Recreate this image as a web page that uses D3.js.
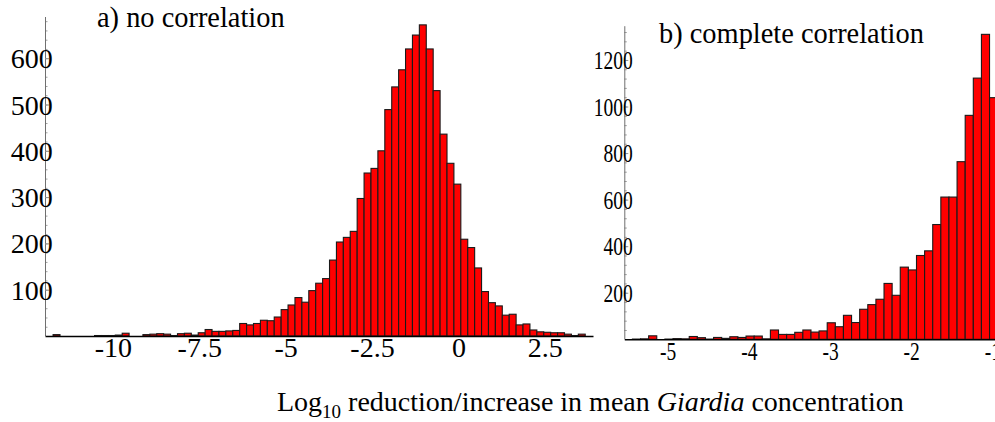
<!DOCTYPE html>
<html>
<head>
<meta charset="utf-8">
<script src="https://cdn.jsdelivr.net/npm/d3@7"></script>
<style>
  html, body { margin: 0; padding: 0; background: #fff; }
  svg { display: block; }
  text { font-family: "Liberation Serif", "Times New Roman", Times, serif; fill: #000; }
</style>
</head>
<body>
<svg id="chart" width="995" height="422"></svg>
<script>
// ---- Panel a: no correlation (bin width 0.2 log10 units) ----
const binStartA = -11.73;
const binWidthA = 0.2;
const countsA = [
  3, 0, 0, 0, 0, 0, 1, 1, 1, 2, 6, 0, 0, 3, 4, 5, 4, 1, 5, 6,
  2, 7, 14, 10, 10, 11, 12, 27, 24, 27, 34, 33, 41, 57, 67, 83, 73, 98, 114, 124,
  164, 203, 213, 226, 297, 352, 362, 400, 489, 538, 575, 620, 650, 672, 620, 530, 436, 373, 328, 209,
  191, 147, 96, 72, 65, 45, 47, 24, 26, 13, 9, 8, 7, 7, 4, 1, 4
];
const xTicksA = [-10, -7.5, -5, -2.5, 0, 2.5];
const yTicksA = [100, 200, 300, 400, 500, 600];
const yMinorA = d3.range(20, 689, 20);

// ---- Panel b: complete correlation (bin width 0.1 log10 units) ----
const binStartB = -5.535;
const binWidthB = 0.1;
const countsB = [
  0, 1, 2, 15, 0, 1, 3, 2, 12, 7, 1, 8, 4, 11, 8, 14, 14, 2, 40, 21,
  21, 30, 40, 31, 36, 71, 54, 103, 72, 129, 149, 172, 240, 189, 310, 298, 360, 380, 493, 611,
  611, 763, 962, 1122, 1310, 1038
];
const xTicksB = [-5, -4, -3, -2, -1];
const yTicksB = [200, 400, 600, 800, 1000, 1200];
const yMinorB = d3.range(40, 1345, 40);

const titleA = "a) no correlation";
const titleB = "b) complete correlation";

const svg = d3.select("#chart");

function makeBins(start, width, counts) {
  return counts.map((c, i) => ({ x0: start + i * width, x1: start + (i + 1) * width, count: c }));
}

function drawPanel(opt) {
  const g = svg.append("g");
  const x = d3.scaleLinear().domain(opt.xDomain).range(opt.xRange);
  const y = d3.scaleLinear().domain(opt.yDomain).range(opt.yRange);
  const bins = makeBins(opt.binStart, opt.binWidth, opt.counts);

  // histogram bars
  g.append("g").selectAll("rect")
    .data(bins.filter(d => d.count > 0))
    .join("rect")
    .attr("x", d => x(d.x0))
    .attr("width", d => x(d.x1) - x(d.x0))
    .attr("y", d => y(d.count))
    .attr("height", d => y(0) - y(d.count))
    .attr("fill", "#ff0000")
    .attr("stroke", "#1a1a1a")
    .attr("stroke-width", 1.1);

  const sx = opt.labelScaleX;

  // vertical axis: minor ticks
  const yMinorAxis = g.append("g")
    .attr("transform", `translate(${opt.xRange[0]},0)`)
    .call(d3.axisRight(y).tickValues(opt.yMinor).tickSize(2.5).tickFormat(""));
  yMinorAxis.select(".domain").remove();
  yMinorAxis.selectAll("line").attr("stroke", "#a0a0a0");

  // vertical axis: major ticks and labels
  const yAxis = g.append("g")
    .attr("transform", `translate(${opt.xRange[0]},0)`)
    .call(d3.axisRight(y).tickValues(opt.yTicks).tickSize(4).tickFormat(d => String(d)));
  yAxis.select(".domain").attr("stroke", "#707070").attr("stroke-width", 1)
    .attr("d", `M0.5,${opt.yRange[0]}V${opt.yRange[1]}`);
  yAxis.selectAll("line").attr("stroke", "#909090");
  yAxis.selectAll("text")
    .attr("font-size", opt.yFont)
    .attr("text-anchor", "end")
    .attr("x", opt.yLabelRight / sx)
    .attr("dy", "0.34em")
    .attr("transform", `scale(${sx},1)`);

  // horizontal axis
  const xAxis = g.append("g")
    .attr("transform", `translate(0,${opt.yRange[0]})`)
    .call(d3.axisBottom(x).tickValues(opt.xTicks).tickSize(0).tickFormat(d => String(d)));
  xAxis.select(".domain").attr("stroke", "#000").attr("stroke-width", 1.6);
  xAxis.selectAll(".tick").each(function () {
    const t = d3.select(this);
    const tx = +t.attr("transform").match(/translate\(([-\d.]+)/)[1];
    t.attr("transform", `translate(${tx},0) scale(${sx},1)`);
  });
  xAxis.selectAll("text")
    .attr("font-size", opt.xFont)
    .attr("y", opt.xLabelDrop)
    .attr("dy", 0);

  // panel title
  g.append("text")
    .attr("x", opt.titleX)
    .attr("y", opt.titleY)
    .attr("font-size", 28.4)
    .text(opt.title);
}

drawPanel({
  xDomain: [-11.964, 3.895], xRange: [45, 593],
  yDomain: [0, 689], yRange: [336, 17],
  binStart: binStartA, binWidth: binWidthA, counts: countsA,
  xTicks: xTicksA, yTicks: yTicksA, yMinor: yMinorA,
  yFont: 28, xFont: 28, labelScaleX: 1,
  yLabelRight: 7.7, xLabelDrop: 21,
  title: titleA, titleX: 97, titleY: 27
});

drawPanel({
  xDomain: [-5.535, -0.9], xRange: [624.3, 1000.5],
  yDomain: [0, 1345], yRange: [339.3, 26.2],
  binStart: binStartB, binWidth: binWidthB, counts: countsB,
  xTicks: xTicksB, yTicks: yTicksB, yMinor: yMinorB,
  yFont: 25, xFont: 25, labelScaleX: 0.78,
  yLabelRight: 8.4, xLabelDrop: 20.7,
  title: titleB, titleX: 659, titleY: 43
});

// shared horizontal axis title
const xt = svg.append("text")
  .attr("x", 277)
  .attr("y", 411)
  .attr("font-size", 28);
xt.append("tspan").text("Log");
xt.append("tspan").attr("font-size", 19).attr("dy", 7).text("10");
xt.append("tspan").attr("dy", -7).text(" reduction/increase in mean ");
xt.append("tspan").attr("font-style", "italic").text("Giardia");
xt.append("tspan").text(" concentration");
</script>
</body>
</html>
